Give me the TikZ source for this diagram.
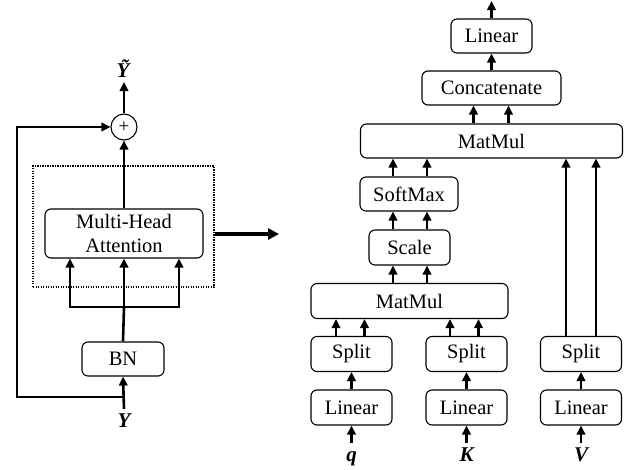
\documentclass[tikz,border=0pt]{standalone}
\usepackage{fontspec}
\setmainfont{Liberation Serif}
\usetikzlibrary{arrows.meta,positioning,calc}

\tikzset{
  block/.style={draw, rounded corners=6pt, line width=1.1pt, minimum height=34pt,
    inner sep=0pt, align=center, font=\fontsize{20.5}{24}\selectfont},
  arr/.style={line width=2.6pt, -{Triangle[length=9pt,width=8.5pt]}},
  conn/.style={line width=2.6pt},
  var/.style={inner sep=0pt, anchor=base, font=\fontsize{21}{24}\selectfont\bfseries\itshape},
}

\begin{document}
\begin{tikzpicture}[x=1pt, y=-1pt]
  \useasboundingbox (0,0) rectangle (631,469);

  % ==== left: residual block ====
  \node[draw, line width=1.1pt, dash pattern={on 1.2pt off 1.3pt},
        minimum width=181pt, minimum height=121pt, inner sep=0pt] (frame) at (123.5,226.5) {};
  \node[block, minimum width=158pt, minimum height=49pt] (mha) at (124,233.5) {Multi-Head\\Attention};
  \node[block, minimum width=82pt] (bn) at (123,359) {BN};
  \node[draw, circle, line width=1.1pt, minimum size=26pt, inner sep=0pt,
        font=\fontsize{19}{20}\selectfont] (plus) at (124,127) {+};

  \node[var] (ylab) at (124,427) {Y};
  \node[var] (yout) at (123,77) {Ỹ};

  \coordinate (yin) at (124,409);
  \coordinate (skip) at (124,397);
  \coordinate (corner) at (17,397);
  \coordinate (fork) at (124,307);
  \coordinate (ytop) at (124,82);

  % input, skip path and normalisation
  \draw[arr] (yin) -- (bn.south);
  \draw[arr, line width=2.2pt] (skip) -- (corner) |- (plus.west);
  \draw[conn] (bn.north) -- (fork);
  \draw[arr] (fork) -- (mha.south);
  \draw[arr] (fork) -| ([xshift=-54pt]mha.south);
  \draw[arr] (fork) -| ([xshift=55pt]mha.south);
  \draw[arr] (mha.north) -- (plus.south);
  \draw[arr] (plus.north) -- (ytop);

  % expansion arrow
  \coordinate (zoom) at (279,234);
  \draw[line width=4.5pt, -{Triangle[length=11pt,width=11pt]}] (frame.east |- zoom) -- (zoom);

  % ==== right: inside the attention ====
  \node[block, minimum width=81pt]  (lin)    at (491.5,36)  {Linear};
  \node[block, minimum width=139pt] (concat) at (491.5,88)  {Concatenate};
  \node[block, minimum width=262pt] (mm2)    at (491.5,141) {MatMul};
  \node[block, minimum width=98pt]  (soft)   at (409,194)   {SoftMax};
  \node[block, minimum width=81pt, minimum height=35pt] (scale) at (409.5,247.5) {Scale};
  \node[block, minimum width=197pt, minimum height=35pt] (mm1) at (409.5,301) {MatMul};

  \foreach \n/\x/\lab in {q/351.5/q, k/466.5/K, v/581/V} {
    \node[block, minimum width=81pt, minimum height=35pt] (split\n) at (\x,354)   {Split};
    \node[block, minimum width=81pt, minimum height=35pt] (lin\n)   at (\x,407.5) {Linear};
    \node[var] (lab\n) at (\x,461) {\lab};
    \coordinate (in\n) at (\x,443);
    \draw[arr] (in\n) -- (lin\n.south);
    \draw[arr] (lin\n.north) -- (split\n.south);
  }

  % two heads per branch
  \foreach \dx in {-15.5,13} {
    \draw[arr] ([xshift=\dx pt]splitq.north) -- ([xshift=\dx pt]splitq.north |- mm1.south);
    \draw[arr] ([xshift=\dx pt-1pt]splitk.north) -- ([xshift=\dx pt-1pt]splitk.north |- mm1.south);
  }
  \foreach \dx in {-15,15}
    \draw[arr] ([xshift=\dx pt]splitv.north) -- ([xshift=\dx pt]splitv.north |- mm2.south);
  \foreach \dx in {-16.5,17.5} {
    \draw[arr] ([xshift=\dx pt]mm1.north) -- ([xshift=\dx pt]mm1.north |- scale.south);
    \draw[arr] ([xshift=\dx pt]mm1.north |- scale.north) -- ([xshift=\dx pt]mm1.north |- soft.south);
    \draw[arr] ([xshift=\dx pt]mm1.north |- soft.north) -- ([xshift=\dx pt]mm1.north |- mm2.south);
  }
  \foreach \dx in {-18,17}
    \draw[arr] ([xshift=\dx pt]mm2.north -| concat) -- ([xshift=\dx pt]concat.south);

  \coordinate (out) at (491.5,1);
  \draw[arr] (concat.north) -- (lin.south);
  \draw[arr] (lin.north) -- (out);
\end{tikzpicture}
\end{document}
